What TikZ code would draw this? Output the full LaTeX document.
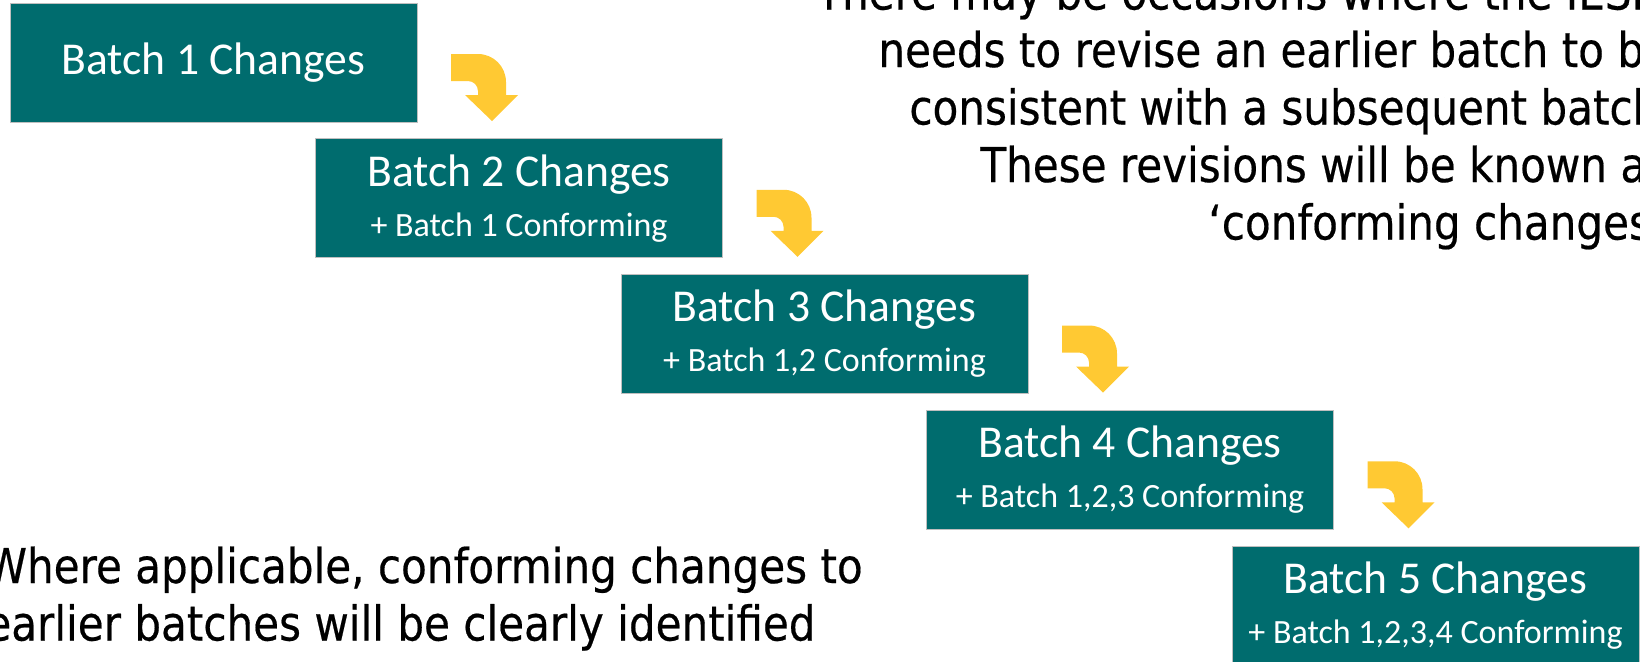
\documentclass[tikz,border=0pt]{standalone}
\usepackage{fontspec}
\newfontfamily\boxfont{Carlito}
\newfontfamily\notefont{DejaVu Sans}[FakeStretch=0.877,FakeBold=0.4]
\definecolor{batchteal}{RGB}{0,108,110}
\definecolor{turnyellow}{RGB}{255,201,51}

\begin{document}
\begin{tikzpicture}[x=0.5pt,y=-0.5pt]

\tikzset{batchbox/.style={draw=black!25, line width=0.5pt, fill=batchteal, text=white, anchor=north west, outer sep=0pt, inner sep=0pt, minimum width=203.5pt, minimum height=59.5pt, align=center, font=\boxfont\fontsize{22.8}{25}\selectfont},
notetext/.style={anchor=base west, inner sep=0pt, font=\notefont\fontsize{24}{28.75}\selectfont},
%bent arrow from one box down to the next
turnarrow/.pic={\fill[turnyellow] (0,0) -- (27,0) .. controls (42.5,0) and (55,12.5) .. (55,28) -- (55,41) -- (67,41) -- (41,67) -- (14,41) -- (27,41) -- (27,37) .. controls (27,31.5) and (22.5,27) .. (17,27) -- (0,27) -- cycle;}}

\useasboundingbox (0,0) rectangle (1640,661);
\clip (0,0) rectangle (1640,661);

\node[batchbox] (b1) at (10,3) {\raisebox{-1.5pt}{Batch 1 Changes}};
\node[batchbox] (b2) at (315.5,138.75) {Batch 2 Changes\\{\fontsize{17}{25}\selectfont + Batch 1 Conforming}};
\node[batchbox] (b3) at (621,274.5) {Batch 3 Changes\\{\fontsize{17}{25}\selectfont + Batch 1,2 Conforming}};
\node[batchbox] (b4) at (926.5,410.25) {Batch 4 Changes\\{\fontsize{17}{25}\selectfont + Batch 1,2,3 Conforming}};
\node[batchbox] (b5) at (1232,546) {Batch 5 Changes\\{\fontsize{17}{25}\selectfont + Batch 1,2,3,4 Conforming}};

\pic at ([shift={(34,51)}]b1.north east) {turnarrow};
\pic at ([shift={(34,51)}]b2.north east) {turnarrow};
\pic at ([shift={(34,51)}]b3.north east) {turnarrow};
\pic at ([shift={(34,51)}]b4.north east) {turnarrow};

\foreach \x/\y/\txt [count=\i] in {816/9.5/There may be occasions where the IESBA, 878/67/needs to revise an earlier batch to be, 909/124.5/consistent with a subsequent batch., 980/182/These revisions will be known as, 1208/239.5/‘conforming changes’.}
  \node[notetext] (note\i) at (\x,\y) {\txt};

\foreach \x/\y/\txt [count=\i] in {-15/583/{Where applicable, conforming changes to}, -15/640.5/earlier batches will be clearly identified}
  \node[notetext] (foot\i) at (\x,\y) {\txt};

\end{tikzpicture}
\end{document}
